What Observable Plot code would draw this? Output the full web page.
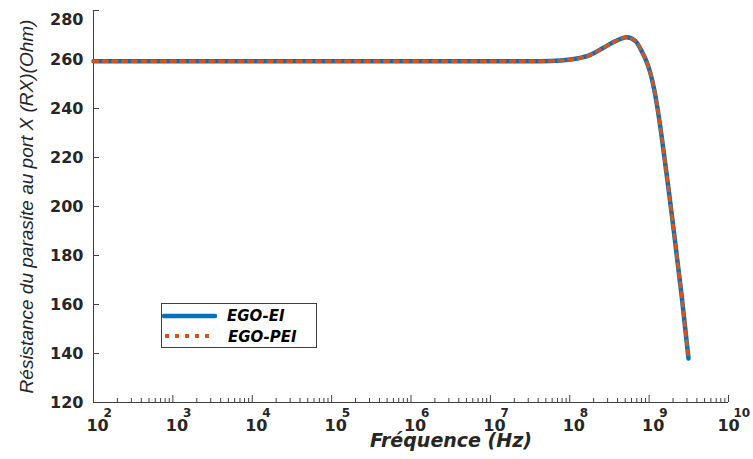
<!DOCTYPE html>
<html>
<head>
<meta charset="utf-8">
<script src="https://cdn.jsdelivr.net/npm/d3@7"></script>
<script src="https://cdn.jsdelivr.net/npm/@observablehq/plot@0.6"></script>
<style>
  body { margin: 0; background: #fff; }
  #wrap { position: relative; width: 753px; height: 459px; overflow: hidden; }
  #legend { position: absolute; left: 161px; top: 303px; }
</style>
</head>
<body>
<div id="wrap"></div>
<script>
// Frequency (Hz) and resistance values (Ohm)
const freq = [1e2, 1e3, 1e4, 1e5, 1e6, 1e7, 4.29e7, 7.66e7, 1.24e8, 1.82e8, 2.66e8, 3.77e8, 5.19e8, 6.73e8, 8.18e8, 9.27e8, 1.04e9, 1.151e9, 1.276e9, 1.432e9, 1.607e9, 1.807e9, 2.028e9, 2.275e9, 2.559e9, 2.831e9, 3.133e9];
const egoEI  = [259.3, 259.3, 259.3, 259.3, 259.3, 259.3, 259.3, 259.6, 260.4, 261.9, 264.8, 267.5, 269.1, 267.5, 263.0, 259.2, 254.3, 248.2, 240.0, 229.0, 216.7, 204.1, 191.0, 177.6, 164.1, 151.0, 138.0];
const egoPEI = [259.3, 259.3, 259.3, 259.3, 259.3, 259.3, 259.3, 259.6, 260.4, 261.9, 264.8, 267.5, 269.1, 267.5, 263.0, 259.2, 254.3, 248.2, 240.0, 229.0, 216.7, 204.1, 191.0, 177.6, 164.1, 151.0, 138.0];
const seriesNames = ["EGO-EI", "EGO-PEI"];
const seriesColors = ["#0072BD", "#D95319"];
const xTickExponents = [2, 3, 4, 5, 6, 7, 8, 9, 10];
const yTicks = [120, 140, 160, 180, 200, 220, 240, 260, 280];
const xLabel = "Fréquence (Hz)";
const yLabel = "Résistance du parasite au port X (RX)(Ohm)";

const rows = freq.map((f, i) => ({f, ei: egoEI[i], pei: egoPEI[i]}));
const majors = xTickExponents.map(e => 10 ** e);
const minors = [];
for (const e of xTickExponents.slice(0, -1)) for (let m = 2; m <= 9; m++) minors.push(m * 10 ** e);

const axisColor = "#404040";
const textColor = "#262626";
const tickFont = {fontSize: 16, fontWeight: "bold", fill: textColor};

const chart = Plot.plot({
  width: 753,
  height: 459,
  marginLeft: 93,
  marginRight: 25,
  marginTop: 10,
  marginBottom: 57,
  style: {fontFamily: "'DejaVu Sans', sans-serif", background: "#fff", color: textColor, overflow: "visible"},
  x: {type: "log", domain: [1e2, 1e10]},
  y: {domain: [120, 280]},
  marks: [
    Plot.ruleX([1e2], {stroke: axisColor}),
    Plot.ruleY([120], {stroke: axisColor}),
    Plot.axisY({ticks: yTicks, tickSize: -6, text: null, stroke: axisColor, label: null}),
    Plot.axisY({ticks: yTicks.filter(v => v < 280), tickSize: 0, tickPadding: 10, label: null, ...tickFont}),
    Plot.axisY({ticks: yTicks.filter(v => v === 280), tickSize: 0, tickPadding: 10, dy: 9, label: null, ...tickFont}),
    Plot.axisX({ticks: majors, tickSize: -7, text: null, stroke: axisColor, label: null}),
    Plot.axisX({ticks: minors, tickSize: -4, text: null, stroke: axisColor, label: null}),
    Plot.text(majors.filter(d => d < 1e10), {x: d => d, frameAnchor: "bottom", lineAnchor: "middle", dy: 23, dx: 4, text: () => "10", ...tickFont}),
    Plot.text(majors.filter(d => d >= 1e10), {x: d => d, frameAnchor: "bottom", lineAnchor: "middle", dy: 23, dx: 0, text: () => "10", ...tickFont}),
    Plot.text(majors.filter(d => d < 1e10), {x: d => d, frameAnchor: "bottom", lineAnchor: "middle", dy: 11, dx: 10, textAnchor: "start", text: d => String(Math.round(Math.log10(d))), fontSize: 12, fontWeight: "bold", fill: textColor}),
    Plot.text(majors.filter(d => d >= 1e10), {x: d => d, frameAnchor: "bottom", lineAnchor: "middle", dy: 11, dx: 5, textAnchor: "start", text: d => String(Math.round(Math.log10(d))), fontSize: 12, fontWeight: "bold", fill: textColor}),
    Plot.text([xLabel], {frameAnchor: "bottom", lineAnchor: "middle", textAnchor: "middle", dx: 40, dy: 38, text: d => d, fontSize: 19, fontWeight: "bold", fontStyle: "italic", fill: textColor}),
    Plot.text([yLabel], {frameAnchor: "left", lineAnchor: "middle", textAnchor: "middle", dx: -67, rotate: -90, text: d => d, fontSize: 19, fontStyle: "italic", fontFamily: "'Liberation Sans', Arial, sans-serif", fill: textColor}),
    Plot.line(rows, {x: "f", y: "ei", stroke: seriesColors[0], strokeWidth: 4.5, curve: "monotone-x"}),
    Plot.line(rows, {x: "f", y: "pei", stroke: seriesColors[1], strokeWidth: 3.5, strokeDasharray: "4,5.7", curve: "monotone-x"})
  ]
});

const wrap = document.getElementById("wrap");
wrap.appendChild(chart);

// Legend overlay
const ns = "http://www.w3.org/2000/svg";
const leg = document.createElementNS(ns, "svg");
leg.setAttribute("id", "legend");
leg.setAttribute("width", 157);
leg.setAttribute("height", 46);
leg.innerHTML = `
  <rect x="0.5" y="0.5" width="155" height="44" fill="#fff" stroke="${axisColor}" stroke-width="1"/>
  <line x1="3" y1="13" x2="54" y2="13" stroke="${seriesColors[0]}" stroke-width="4.5" stroke-linecap="round"/>
  <line x1="4" y1="33" x2="50" y2="33" stroke="${seriesColors[1]}" stroke-width="4" stroke-dasharray="4,6"/>
  <text x="66" y="13" dy="0.35em" font-family="DejaVu Sans, sans-serif" font-size="15" font-weight="bold" font-style="italic" fill="#000">${seriesNames[0]}</text>
  <text x="67" y="34" dy="0.35em" font-family="DejaVu Sans, sans-serif" font-size="15" font-weight="bold" font-style="italic" fill="#000">${seriesNames[1]}</text>`;
wrap.appendChild(leg);
</script>
</body>
</html>
